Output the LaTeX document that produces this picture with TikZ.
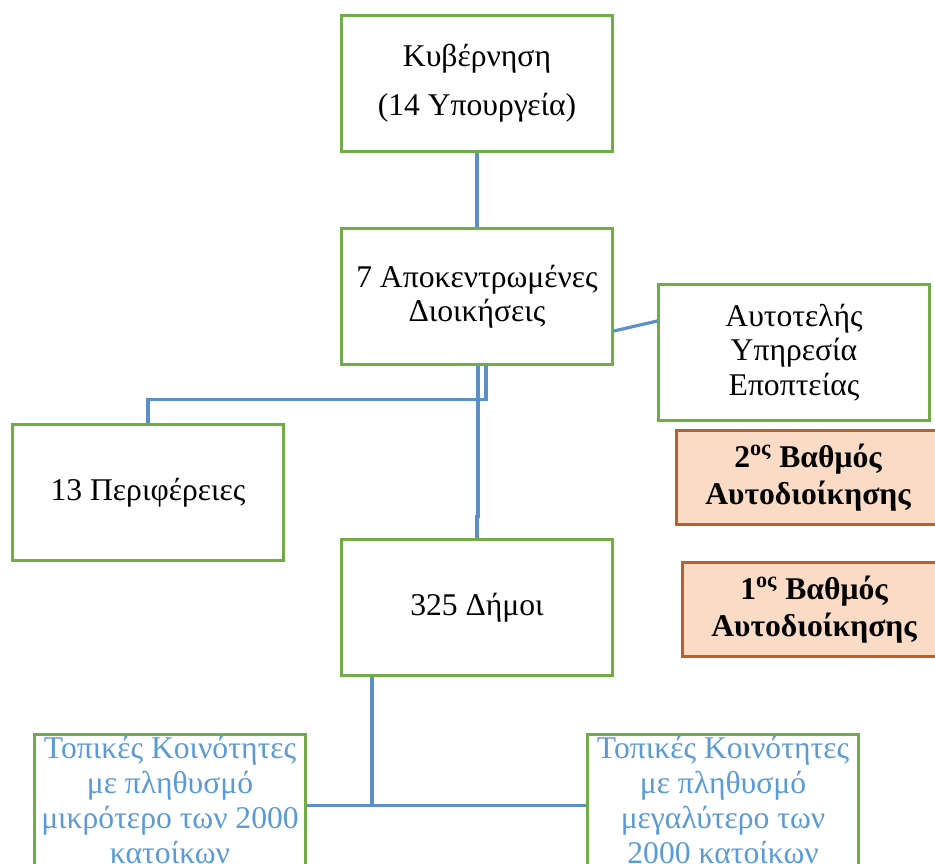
\documentclass[tikz,border=0pt]{standalone}
\usepackage{fontspec}
\setmainfont{Liberation Serif}
\usetikzlibrary{positioning,calc}
\definecolor{boxgreen}{HTML}{70AD47}
\definecolor{linkblue}{HTML}{5B8FC9}
\definecolor{textblue}{HTML}{5B9BD5}
\definecolor{gradefill}{HTML}{FADBC5}
\definecolor{gradeline}{HTML}{B8612A}

\begin{document}
\begin{tikzpicture}[x=0.02cm,y=-0.02cm,
    unit/.style={draw=boxgreen, line width=1.6pt, fill=white, align=center,
      minimum width=5.42cm, minimum height=2.72cm, font=\fontsize{18}{19.5}\selectfont},
    local/.style={unit, anchor=north, text=textblue, inner ysep=1pt, inner xsep=1pt,
      minimum height=0pt, font=\fontsize{18}{20}\selectfont},
    grade/.style={draw=gradeline, fill=gradefill, line width=1.6pt, align=center,
      minimum width=5.26cm, minimum height=1.88cm, font=\bfseries\fontsize{18}{21.5}\selectfont},
    link/.style={draw=linkblue, line width=1.8pt}]
  \useasboundingbox (0,0) rectangle (935,863);
  \clip (0,0) rectangle (935,863);
  % draw administration levels
  \node[unit] (gov) at (477,83.5) {Κυβέρνηση\\[0.3cm](14 Υπουργεία)};
  \node[unit] (apok) at (477,296.5) {7 Αποκεντρωμένες\\Διοικήσεις};
  \node[unit] (audit) at (794,352.5) {Αυτοτελής\\Υπηρεσία\\Εποπτείας};
  \node[unit] (perif) at (148,492.5) {13 Περιφέρειες};
  \node[unit] (dimoi) at (477,607.5) {325 Δήμοι};
  % draw local communities
  \node[local] (small) at (170,733) {Τοπικές Κοινότητες\\με πληθυσμό\\μικρότερο των 2000\\κατοίκων};
  \node[local] (large) at (723,733) {Τοπικές Κοινότητες\\με πληθυσμό\\μεγαλύτερο των\\2000 κατοίκων};
  % draw grade labels
  \node[grade] (second) at (808,477.5) {2\textsuperscript{ος} Βαθμός\\Αυτοδιοίκησης};
  \node[grade] (first) at (814,609.5) {1\textsuperscript{ος} Βαθμός\\Αυτοδιοίκησης};
  % connectors
  \draw[link] (gov.south) -- (apok.north);
  \draw[link] ([yshift=-0.69cm]apok.east) -- ([yshift=0.63cm]audit.west);
  \draw[link] ([xshift=0.18cm]apok.south) -- ++(0,34) -| (perif.north);
  \draw[link] ([xshift=0.02cm]apok.south) -- ++(0,151) -| (dimoi.north);
  \draw[link] ([xshift=-2.1cm]dimoi.south) -- ++(0,129) coordinate (fork);
  \draw[link] (small.east |- fork) -- (large.west |- fork);
\end{tikzpicture}
\end{document}
